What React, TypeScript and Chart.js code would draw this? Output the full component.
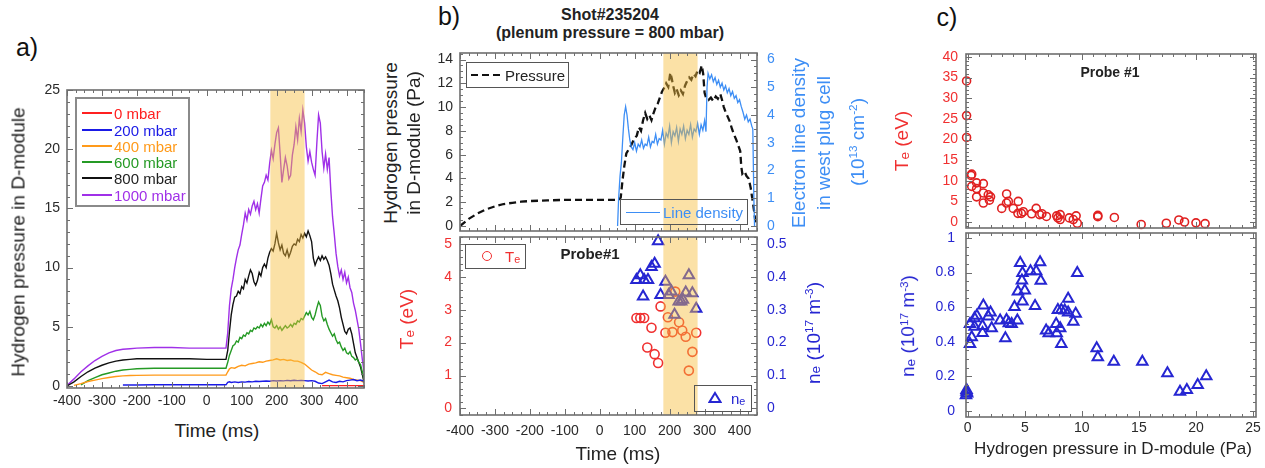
import React, { useEffect, useRef } from "react";
import { Chart, registerables } from "chart.js";
Chart.register(...registerables);

const FONT = "'Liberation Sans', Arial, Helvetica, sans-serif";

// ---------------- Panel a data ----------------
const timeCoarse = [
  -400, -380, -360, -340, -320, -300, -280, -260, -240, -220, -200, -150, -100, -50, 0, 50, 55, 60, 65, 70,
  80, 90, 100, 110, 120, 130, 140, 150, 160, 170,
  180, 190, 200, 210, 220, 230, 240, 250, 260, 270,
  280, 290, 300, 310, 320, 330, 340, 350, 360, 370,
  380, 390, 400, 410, 420, 430, 440, 450,
];
const p0mbar = [
  null, null, null, null, null, null, null, null, null, null, null, null, null, null, null, null, null, null, null, null,
  null, null, null, null, null, null, null, null, null, null,
  null, null, null, null, null, null, null, null, null, null,
  null, null, null, null, null, 0.03, 0.03, 0.03, 0.03, 0.03,
  0.03, 0.03, 0.03, 0.03, 0.03, 0.03, 0.03, 0.03,
];
const p200mbar = [
  null, null, null, null, null, null, null, null, 0.08, 0.08, 0.08, 0.1, 0.1, 0.1, 0.1, 0.1, 0.1, 0.3, 0.35, 0.3,
  0.35, 0.3, 0.35, 0.33, 0.38, 0.35, 0.4, 0.38, 0.4, 0.42,
  0.4, 0.45, 0.42, 0.45, 0.43, 0.47, 0.44, 0.48, 0.45, 0.47,
  0.45, 0.42, 0.45, 0.4, 0.25, 0.2, 0.35, 0.5, 0.35, 0.3,
  0.4, 0.35, 0.45, 0.5, 0.55, 0.45, 0.5, 0.4,
];
const p400mbar = [
  null, 0.05, 0.2, 0.38, 0.5, 0.62, 0.72, 0.8, 0.85, 0.88, 0.9, 0.92, 0.92, 0.92, 0.92, 0.92, 0.92, 1.2, 1.45, 1.55,
  1.5, 1.65, 1.75, 1.7, 1.85, 1.9, 1.95, 2.05, 2.0, 2.1,
  2.15, 2.2, 2.3, 2.2, 2.25, 2.15, 2.2, 2.1, 2.1, 2.0,
  1.85, 1.6, 1.35, 1.2, 1.0, 0.95, 1.15, 1.05, 0.95, 0.9,
  0.85, 0.75, 0.7, 0.65, 0.55, 0.5, 0.45, 0.3,
];
const timeFine = [
  -400, -380, -360, -340, -320, -300, -280, -260, -240, -220, -200, -150, -100, -50, 0, 50, 55,
  60, 65, 70, 75, 80, 85, 90, 95, 100, 105,
  110, 115, 120, 125, 130, 135, 140, 145, 150, 155,
  160, 165, 170, 175, 180, 185, 190, 195, 200, 205,
  210, 215, 220, 225, 230, 235, 240, 245, 250, 255,
  260, 265, 270, 275, 280, 285, 290, 295, 300, 305,
  310, 315, 320, 325, 330, 335, 340, 345, 350, 355,
  360, 365, 370, 375, 380, 385, 390, 395, 400, 405,
  410, 415, 420, 425, 430, 435, 440, 445, 450,
];
const p600mbar = [
  null, null, 0.1, 0.45, 0.7, 0.95, 1.1, 1.25, 1.35, 1.4, 1.45, 1.5, 1.5, 1.5, 1.5, 1.5, 1.5,
  2.0, 2.6, 3.0, 3.4, 3.5, 3.8, 3.7, 4.1, 4.0, 4.3,
  4.2, 4.5, 4.4, 4.7, 4.6, 4.9, 4.8, 5.0, 4.9, 5.2,
  5.0, 5.3, 5.1, 5.4, 5.2, 5.6, 5.0, 4.9, 5.1, 4.8,
  5.0, 4.7, 4.9, 5.1, 4.9, 5.0, 5.2, 5.0, 5.3, 5.2,
  5.5, 5.4, 5.7, 5.6, 5.9, 6.2, 6.0, 6.3, 5.8, 5.6,
  6.0, 6.6, 7.1, 6.8, 5.9, 5.5, 5.7, 5.2, 4.8, 4.5,
  4.2, 4.4, 3.9, 3.6, 3.7, 3.3, 3.0, 3.2, 2.8, 2.7,
  2.9, 2.5, 2.4, 2.2, 2.3, 2.0, 1.8, 1.2, 0.6,
];
const p800mbar = [
  0, 0.35, 0.8, 1.2, 1.5, 1.75, 1.95, 2.1, 2.2, 2.25, 2.3, 2.3, 2.3, 2.3, 2.25, 2.25, 2.25,
  3.0, 4.6, 6.0, 6.9, 7.5, 7.6, 8.0, 7.8, 8.4, 8.2,
  9.0, 8.7, 9.3, 9.8, 9.5, 8.8, 8.5, 8.9, 9.6, 9.3,
  10.0, 10.3, 10.0, 10.8, 11.3, 11.6, 11.4, 12.0, 12.9, 12.1,
  11.5, 11.9, 11.2, 11.0, 11.5, 10.9, 11.3, 11.8, 12.0, 11.9,
  12.4, 12.2, 12.8, 12.5, 12.9, 12.6, 13.1, 12.7, 12.2, 10.8,
  10.2, 10.6, 10.9, 10.6, 11.0, 10.7, 10.9, 10.6, 10.2, 9.5,
  8.6, 8.1, 7.6, 7.2, 6.6, 5.8, 5.2, 4.6, 4.4, 4.8,
  4.9, 4.4, 3.6, 2.8, 2.4, 2.0, 1.6, 1.0, 0.3,
];
const p1000mbar = [
  0.05, 0.6, 1.2, 1.7, 2.15, 2.5, 2.8, 3.0, 3.1, 3.15, 3.2, 3.25, 3.25, 3.2, 3.2, 3.2, 3.2,
  4.5, 6.8, 8.2, 9.0, 10.0, 10.8, 11.5, 11.9, 12.8, 13.6,
  14.6, 14.0, 14.9, 14.5, 15.2, 15.6, 14.9, 15.4, 14.6, 15.8,
  16.9, 17.2, 17.8, 17.4, 18.8, 19.9, 19.2, 20.4, 21.4, 21.8,
  19.6, 17.2, 18.3, 19.3, 18.6, 17.5, 17.8, 19.5, 20.4, 21.9,
  20.8, 22.6, 21.5, 23.3, 22.2, 20.2, 19.0, 19.8, 18.9, 18.3,
  17.8, 20.5, 22.9, 22.2, 19.8, 18.4, 19.6, 18.3, 19.3, 16.5,
  14.3, 12.8, 11.2, 10.1, 9.3, 9.8, 9.0, 9.6, 8.7, 9.2,
  8.3, 7.9, 7.0, 6.4, 5.6, 4.8, 3.6, 2.3, 1.2,
];
const seriesLabelsA = ["0 mbar", "200 mbar", "400 mbar", "600 mbar", "800 mbar", "1000 mbar"];

// ---------------- Panel b data ----------------
const pressureTime = [
  -400, -375, -350, -325, -300, -275, -250, -225, -200, -150, -100, -50, 0, 55,
  60, 65, 70, 76, 82, 90, 100, 106, 112, 118, 124, 130, 136, 142, 148, 154,
  160, 166, 172, 178, 184, 190, 196, 202, 206, 210, 215, 220, 226, 232, 238, 244, 250, 256, 262, 268,
  274, 280, 286, 292, 296, 300, 305, 311, 318, 325, 332, 338, 345, 350, 355, 360, 366, 372, 378, 384,
  390, 396, 402, 405, 408, 414, 420, 426, 432, 438, 442, 446,
];
const pressureValue = [
  0, 0.6, 1.05, 1.4, 1.65, 1.85, 1.95, 2.05, 2.1, 2.15, 2.2, 2.2, 2.2, 2.2,
  2.4, 3.8, 5.0, 6.1, 6.4, 6.8, 7.4, 7.6, 8.3, 8.0, 8.9, 9.5, 9.0, 9.3, 8.9, 9.5,
  10.0, 10.3, 10.8, 11.3, 11.6, 12.0, 11.7, 12.9, 12.4, 11.8, 11.2, 11.5, 11.0, 11.4, 11.1, 11.8, 12.2, 12.5, 12.3, 12.8,
  12.6, 13.1, 12.9, 13.5, 12.8, 11.2, 10.7, 10.6, 10.8, 10.5, 10.9, 10.7, 11.1, 10.6, 10.0, 9.6, 9.2, 8.8, 8.2, 7.7,
  7.3, 6.8, 6.3, 5.0, 4.4, 4.6, 4.2, 4.0, 3.2, 2.0, 1.2, 0.2,
];
const densityTime = [
  51, 54, 58, 62, 66, 70, 74, 78, 82, 86,
  90, 95, 100, 105, 110, 115, 120, 125, 130, 135,
  140, 145, 150, 155, 160, 165, 170, 175, 180, 185,
  190, 195, 200, 205, 210, 215, 220, 225, 230, 235,
  240, 245, 250, 255, 260, 265, 270, 275, 280, 285,
  290, 295, 300, 304, 307, 310, 315, 320, 325, 330,
  335, 340, 345, 350, 355, 360, 365, 370, 375, 380,
  385, 390, 395, 400, 405, 410, 415, 420, 425, 430,
  435, 438, 441, 443,
];
const densityValue = [
  0, 1.0, 1.8, 2.3, 3.2, 4.0, 4.3, 4.0, 3.5, 3.1,
  2.85, 2.75, 3.0, 2.7, 2.95, 2.85, 3.1, 2.8, 2.95, 2.9,
  3.2, 2.85, 3.05, 3.0, 3.3, 2.95, 3.15, 3.1, 3.45, 2.95,
  3.35, 3.2, 3.6, 3.0, 3.4, 3.25, 3.55, 3.05, 3.5, 3.3,
  3.6, 3.15, 3.45, 3.3, 3.65, 3.2, 3.5, 3.4, 3.7, 3.3,
  3.65, 3.45, 3.8, 3.4, 5.0, 5.5, 5.3, 5.45, 5.2, 5.35,
  5.1, 5.25, 5.0, 5.15, 4.9, 5.05, 4.8, 4.95, 4.7, 4.85,
  4.6, 4.7, 4.45, 4.55, 4.3, 4.1, 3.85, 4.0, 3.75, 3.85,
  3.6, 3.5, 1.0, 0,
];
const teTimeB = [105, 116, 127, 148, 136, 157, 167, 174, 188, 195, 208, 216, 227, 236, 246, 265, 255, 276];
const teValueB = [2.75, 2.75, 2.75, 2.45, 1.85, 1.65, 1.38, 3.1, 2.3, 2.77, 2.32, 3.55, 2.62, 2.37, 2.18, 1.72, 1.15, 2.3];
const neTimeB = [167, 148, 157, 105, 116, 127, 138, 124, 174, 188, 197, 205, 214, 226, 233, 238, 246, 255, 265, 276];
const neValueB = [0.508, 0.43, 0.44, 0.39, 0.405, 0.39, 0.39, 0.34, 0.345, 0.385, 0.345, 0.355, 0.285, 0.325, 0.325, 0.33, 0.352, 0.405, 0.35, 0.303];
const bandRange = [182, 280];

// ---------------- Panel c data ----------------
const tePressureC = [
  -0.1, -0.1, -0.1, 0.29, 0.35, 0.35, 0.78, 0.78, 0.78, 1.37, 1.37, 1.37, 1.8, 2.0, 1.9, 2.98,
  3.41, 3.4, 3.56, 3.99, 4.43, 4.4, 4.7, 4.87, 5.6, 6.0, 6.3, 6.5, 6.9, 7.8, 7.9, 8.1, 8.1,
  8.9, 9.25, 9.5, 9.6, 11.4, 11.4, 12.85, 15.2, 17.4, 18.5, 19.0, 20.0, 20.8,
];
const teValueC = [
  34.2, 25.8, 20.5, 11.3, 11.6, 8.65, 9.5, 8.1, 6.1, 9.3, 7.05, 4.6, 6.6, 6.1, 5.3, 3.3,
  6.8, 4.6, 5.0, 3.3, 5.0, 2.1, 2.1, 2.5, 2.0, 3.3, 1.8, 2.0, 1.35, 1.5, 1.0, 1.8, 0.6,
  1.0, 0.6, 1.5, -0.3, 1.3, 1.6, 1.1, -0.6, -0.3, 0.5, 0.0, -0.2, -0.4,
];
const nePressureC = [
  -0.15, -0.1, -0.05, -0.1, 0.2, 0.35, 0.2, 0.6, 0.8, 0.6, 1.37, 1.3, 1.3, 1.8, 2.0, 2.1,
  2.84, 3.3, 3.4, 3.6, 3.85, 4.35, 4.1, 4.4, 4.6, 4.8, 4.75, 4.8, 5.0, 5.5, 6.0, 5.9,
  6.34, 6.4, 6.87, 7.1, 7.75, 7.8, 7.9, 8.2, 8.1, 8.2, 8.5, 8.8, 8.8, 9.25, 9.46, 9.6,
  11.3, 11.4, 12.8, 15.3, 17.5, 18.6, 19.2, 20.15, 20.9,
];
const neValueC = [
  0.09, 0.11, 0.1, 0.12, 0.387, 0.425, 0.503, 0.536, 0.55, 0.487, 0.61, 0.49, 0.45, 0.545, 0.569, 0.478,
  0.522, 0.42, 0.526, 0.507, 0.503, 0.522, 0.6, 0.69, 0.855, 0.797, 0.754, 0.632, 0.696, 0.807, 0.807, 0.607,
  0.86, 0.752, 0.464, 0.449, 0.503, 0.449, 0.584, 0.584, 0.478, 0.387, 0.58, 0.569, 0.648, 0.516, 0.561, 0.797,
  0.362, 0.31, 0.284, 0.284, 0.217, 0.11, 0.12, 0.149, 0.2,
];

// ---------------- Tick labels ----------------
const timeTicks = [-400, -300, -200, -100, 0, 100, 200, 300, 400];
const pressureTicksA = [0, 5, 10, 15, 20, 25];
const pressureTicksB = [0, 2, 4, 6, 8, 10, 12, 14];
const densityTicks = [0, 1, 2, 3, 4, 5, 6];
const teTicksB = [0, 1, 2, 3, 4, 5];
const neTicksB = [0, 0.1, 0.2, 0.3, 0.4, 0.5];
const pressureTicksC = [0, 5, 10, 15, 20, 25];
const teTicksC = [0, 5, 10, 15, 20, 25, 30, 35, 40];
const neTicksC = [0, 0.2, 0.4, 0.6, 0.8, 1];

// ---------------- colours ----------------
const C_RED = "#f03030";
const C_BLUE = "#2626d2";
const C_LIGHT = "#3d8ef5";
const C_TXT = "#2a2a2a";
const BAND = "rgba(246,188,58,0.45)";
const colorsA = ["#ff2020", "#1a1ae6", "#ff9a1a", "#259a25", "#111111", "#a030e8"];

// ---------------- plugins ----------------
const bandPlugin = {
  id: "band",
  afterDatasetsDraw(chart: any, _a: any, opts: any) {
    if (!opts || !opts.range) return;
    const xs = chart.scales.x;
    const ca = chart.chartArea;
    const x0 = xs.getPixelForValue(opts.range[0]);
    const x1 = xs.getPixelForValue(opts.range[1]);
    const ctx = chart.ctx;
    ctx.save();
    ctx.fillStyle = opts.color;
    ctx.fillRect(x0, ca.top, x1 - x0, ca.bottom - ca.top);
    ctx.restore();
  },
};

const framePlugin = {
  id: "frame",
  afterDraw(chart: any, _a: any, opts: any) {
    const ctx = chart.ctx;
    const ca = chart.chartArea;
    ctx.save();
    ctx.strokeStyle = "#6e6e6e";
    ctx.lineWidth = 1;
    for (const ax of opts.axes || []) {
      const s = chart.scales[ax.id];
      const i0 = Math.ceil((s.min - 1e-9) / ax.minor);
      const i1 = Math.floor((s.max + 1e-9) / ax.minor);
      for (let i = i0; i <= i1; i++) {
        const v = i * ax.minor;
        const r = v / ax.major;
        const major = Math.abs(r - Math.round(r)) < 1e-6;
        const len = major ? 6 : 3;
        const p = Math.round(s.getPixelForValue(v)) + 0.5;
        for (const side of ax.sides) {
          ctx.beginPath();
          if (side === "bottom") { ctx.moveTo(p, ca.bottom); ctx.lineTo(p, ca.bottom - len); }
          if (side === "top") { ctx.moveTo(p, ca.top); ctx.lineTo(p, ca.top + len); }
          if (side === "left") { ctx.moveTo(ca.left, p); ctx.lineTo(ca.left + len, p); }
          if (side === "right") { ctx.moveTo(ca.right, p); ctx.lineTo(ca.right - len, p); }
          ctx.stroke();
        }
      }
    }
    ctx.lineWidth = 1.6;
    ctx.strokeRect(ca.left, ca.top, ca.right - ca.left, ca.bottom - ca.top);
    ctx.restore();
  },
};

// ---------------- helpers ----------------
const axis = (o: any) => ({
  type: "linear",
  position: o.position,
  min: o.min,
  max: o.max,
  grid: { display: false, drawTicks: false },
  border: { display: false },
  afterBuildTicks: (s: any) => {
    s.ticks = o.ticks.map((v: number) => ({ value: v }));
  },
  afterFit: (s: any) => {
    if (o.position === "bottom" || o.position === "top") s.height = o.size;
    else s.width = o.size;
    s.paddingTop = 0;
    s.paddingBottom = 0;
    s.paddingLeft = 0;
    s.paddingRight = 0;
  },
  ticks: {
    display: o.labels !== false,
    autoSkip: false,
    maxRotation: 0,
    minRotation: 0,
    padding: o.pad ?? 6,
    color: o.color ?? C_TXT,
    font: { family: FONT, size: 14 },
    callback: (v: any) => String(v),
  },
});

const xy = (xs: number[], ys: (number | null)[]) => xs.map((x, i) => ({ x, y: ys[i] }));

const baseOptions = (padding: any, scales: any, plugins: any) => ({
  responsive: false,
  animation: false,
  layout: { padding, autoPadding: false },
  scales,
  plugins: { legend: { display: false }, tooltip: { enabled: false }, ...plugins },
});

// ---------------- chart configs ----------------
const configA = () => {
  const series = [p0mbar, p200mbar, p400mbar, p600mbar, p800mbar, p1000mbar];
  const times = [timeCoarse, timeCoarse, timeCoarse, timeFine, timeFine, timeFine];
  return {
    type: "line",
    data: {
      datasets: series.map((s, i) => ({
        label: seriesLabelsA[i],
        data: xy(times[i], s),
        borderColor: colorsA[i],
        borderWidth: 1.4,
        pointRadius: 0,
        fill: false,
        tension: 0,
        spanGaps: false,
      })),
    },
    options: baseOptions(
      { left: 0, right: 10, top: 10, bottom: 0 },
      {
        x: axis({ position: "bottom", min: -400, max: 450, ticks: timeTicks, size: 26, pad: 5 }),
        y: axis({ position: "left", min: -0.17, max: 25, ticks: pressureTicksA, size: 50, pad: 7 }),
      },
      {
        band: { range: bandRange, color: BAND },
        frame: {
          axes: [
            { id: "x", sides: ["bottom", "top"], major: 100, minor: 25 },
            { id: "y", sides: ["left", "right"], major: 5, minor: 1 },
          ],
        },
      }
    ),
    plugins: [bandPlugin, framePlugin],
  };
};

const configBTop = () => ({
  type: "line",
  data: {
    datasets: [
      {
        label: "Line density",
        data: xy(densityTime, densityValue),
        yAxisID: "y2",
        borderColor: C_LIGHT,
        borderWidth: 1.3,
        pointRadius: 0,
        tension: 0,
      },
      {
        label: "Pressure",
        data: xy(pressureTime, pressureValue),
        yAxisID: "y",
        borderColor: "#111111",
        borderWidth: 2.3,
        borderDash: [7, 4],
        pointRadius: 0,
        tension: 0,
      },
    ],
  },
  options: baseOptions(
    { left: 0, right: 0, top: 10, bottom: 10 },
    {
      x: axis({ position: "bottom", min: -400, max: 450, ticks: timeTicks, size: 0, labels: false }),
      y: axis({ position: "left", min: -0.42, max: 14.55, ticks: pressureTicksB, size: 45, pad: 7 }),
      y2: axis({ position: "right", min: -0.18, max: 6.235, ticks: densityTicks, size: 45, pad: 10, color: C_LIGHT }),
    },
    {
      band: { range: bandRange, color: BAND },
      frame: {
        axes: [
          { id: "x", sides: ["bottom", "top"], major: 100, minor: 25 },
          { id: "y", sides: ["left"], major: 2, minor: 0.5 },
          { id: "y2", sides: ["right"], major: 1, minor: 0.25 },
        ],
      },
    }
  ),
  plugins: [bandPlugin, framePlugin],
});

const configBBottom = () => ({
  type: "scatter",
  data: {
    datasets: [
      {
        label: "ne",
        data: xy(neTimeB, neValueB),
        yAxisID: "y2",
        pointStyle: "triangle",
        pointRadius: 6,
        borderWidth: 2,
        borderColor: C_BLUE,
        backgroundColor: "rgba(0,0,0,0)",
        clip: false,
      },
      {
        label: "Te",
        data: xy(teTimeB, teValueB),
        yAxisID: "y",
        pointStyle: "circle",
        pointRadius: 4.5,
        borderWidth: 1.6,
        borderColor: C_RED,
        backgroundColor: "rgba(0,0,0,0)",
        clip: false,
      },
    ],
  },
  options: baseOptions(
    { left: 0, right: 0, top: 10, bottom: 0 },
    {
      x: axis({ position: "bottom", min: -400, max: 450, ticks: timeTicks, size: 30, pad: 8 }),
      y: axis({ position: "left", min: -0.2, max: 5.21, ticks: teTicksB, size: 45, pad: 8, color: C_RED }),
      y2: axis({ position: "right", min: -0.02, max: 0.521, ticks: neTicksB, size: 45, pad: 10, color: C_BLUE }),
    },
    {
      band: { range: bandRange, color: BAND },
      frame: {
        axes: [
          { id: "x", sides: ["bottom", "top"], major: 100, minor: 25 },
          { id: "y", sides: ["left"], major: 1, minor: 0.2 },
          { id: "y2", sides: ["right"], major: 0.1, minor: 0.02 },
        ],
      },
    }
  ),
  plugins: [bandPlugin, framePlugin],
});

const configCTop = () => ({
  type: "scatter",
  data: {
    datasets: [
      {
        label: "Te",
        data: xy(tePressureC, teValueC),
        pointStyle: "circle",
        pointRadius: 4,
        borderWidth: 1.6,
        borderColor: "#e02020",
        backgroundColor: "rgba(0,0,0,0)",
        clip: false,
      },
    ],
  },
  options: baseOptions(
    { left: 0, right: 9, top: 10, bottom: 10 },
    {
      x: axis({ position: "bottom", min: -0.15, max: 25.26, ticks: pressureTicksC, size: 0, labels: false }),
      y: axis({ position: "left", min: -1.45, max: 40.73, ticks: teTicksC, size: 50, pad: 8, color: C_RED }),
    },
    {
      frame: {
        axes: [
          { id: "x", sides: ["bottom", "top"], major: 5, minor: 1 },
          { id: "y", sides: ["left", "right"], major: 5, minor: 1 },
        ],
      },
    }
  ),
  plugins: [framePlugin],
});

const configCBottom = () => ({
  type: "scatter",
  data: {
    datasets: [
      {
        label: "ne",
        data: xy(nePressureC, neValueC),
        pointStyle: "triangle",
        pointRadius: 6,
        borderWidth: 2,
        borderColor: C_BLUE,
        backgroundColor: "rgba(0,0,0,0)",
        clip: false,
      },
    ],
  },
  options: baseOptions(
    { left: 0, right: 9, top: 10, bottom: 0 },
    {
      x: axis({ position: "bottom", min: -0.15, max: 25.26, ticks: pressureTicksC, size: 26, pad: 3 }),
      y: axis({ position: "left", min: -0.036, max: 1.029, ticks: neTicksC, size: 50, pad: 11, color: C_BLUE }),
    },
    {
      frame: {
        axes: [
          { id: "x", sides: ["bottom", "top"], major: 5, minor: 1 },
          { id: "y", sides: ["left", "right"], major: 0.2, minor: 0.05 },
        ],
      },
    }
  ),
  plugins: [framePlugin],
});

// ---------------- components ----------------
function ChartCanvas({ l, t, w, h, make }: any) {
  const ref = useRef<HTMLCanvasElement>(null);
  useEffect(() => {
    const chart = new Chart(ref.current as HTMLCanvasElement, make() as any);
    return () => chart.destroy();
  }, []);
  return (
    <canvas
      ref={ref}
      width={w}
      height={h}
      style={{ position: "absolute", left: l, top: t, width: w, height: h }}
    />
  );
}

function Txt({ x, y, rot, size = 19, color = "#222", bold, children }: any) {
  return (
    <div
      style={{
        position: "absolute",
        left: x,
        top: y,
        transform: `translate(-50%,-50%)${rot ? " rotate(-90deg)" : ""}`,
        fontFamily: FONT,
        fontSize: size,
        color,
        fontWeight: bold ? 700 : 400,
        whiteSpace: "nowrap",
        lineHeight: 1,
      }}
    >
      {children}
    </div>
  );
}

const Sup = ({ children }: any) => (
  <span style={{ fontSize: "0.62em", verticalAlign: "0.55em" }}>{children}</span>
);
const Sub = ({ children }: any) => (
  <span style={{ fontSize: "0.72em", verticalAlign: "-0.05em" }}>{children}</span>
);

function Box({ l, t, w, h, color = "#666", bw = 1.6 }: any) {
  return (
    <div
      style={{
        position: "absolute",
        left: l,
        top: t,
        width: w,
        height: h,
        border: `${bw}px solid ${color}`,
        boxSizing: "border-box",
      }}
    />
  );
}

function HLine({ x, y, w, color, width = 2, dash }: any) {
  return (
    <div
      style={{
        position: "absolute",
        left: x,
        top: Math.round(y - width / 2),
        width: w,
        height: width,
        background: dash
          ? `repeating-linear-gradient(90deg, ${color} 0 7px, transparent 7px 11px)`
          : color,
      }}
    />
  );
}

function LegText({ x, y, color, size = 15, children }: any) {
  return (
    <div
      style={{
        position: "absolute",
        left: x,
        top: y,
        transform: "translateY(-50%)",
        fontFamily: FONT,
        fontSize: size,
        color,
        whiteSpace: "nowrap",
        lineHeight: 1,
      }}
    >
      {children}
    </div>
  );
}

export default function App() {
  const legendRowsA = [113, 130, 146, 162, 178, 195];
  return (
    <div
      style={{
        position: "absolute",
        left: 0,
        top: 0,
        width: 1265,
        height: 468,
        overflow: "hidden",
        background: "#ffffff",
      }}
    >
      {/* Panel a */}
      <ChartCanvas l={17} t={80} w={357} h={334} make={configA} />
      <Txt x={27} y={47} size={25} color="#111">a)</Txt>
      <Txt x={18} y={242} rot>Hydrogen pressure in D-module</Txt>
      <Txt x={217} y={430}>Time (ms)</Txt>
      <Box l={75} t={97} w={115} h={110} color="#8a8a8a" bw={2} />
      {seriesLabelsA.map((lab, i) => (
        <React.Fragment key={lab}>
          <HLine x={82} y={legendRowsA[i]} w={30} color={colorsA[i]} width={2} />
          <LegText x={114} y={legendRowsA[i]} color={colorsA[i] === "#111111" ? "#222" : colorsA[i]}>
            {lab}
          </LegText>
        </React.Fragment>
      ))}

      {/* Panel b */}
      <ChartCanvas l={415} t={43} w={387} h={198} make={configBTop} />
      <ChartCanvas l={415} t={227} w={387} h={218} make={configBBottom} />
      <Txt x={449} y={16} size={25} color="#111">b)</Txt>
      <Txt x={610} y={15} size={16} bold>Shot#235204</Txt>
      <Txt x={610} y={33} size={16} bold>(plenum pressure = 800 mbar)</Txt>
      <Txt x={390} y={143} rot>Hydrogen pressure</Txt>
      <Txt x={413} y={143} rot>in D-module (Pa)</Txt>
      <Txt x={407} y={319} rot color={C_RED}>
        T<Sub>e</Sub> (eV)
      </Txt>
      <Txt x={798} y={143} rot color={C_LIGHT}>Electron line density</Txt>
      <Txt x={823} y={143} rot color={C_LIGHT}>in west plug cell</Txt>
      <Txt x={857} y={142} rot color={C_LIGHT}>
        (10<Sup>13</Sup> cm<Sup>-2</Sup>)
      </Txt>
      <Txt x={813} y={333} rot color={C_BLUE}>
        n<Sub>e</Sub> (10<Sup>17</Sup> m<Sup>-3</Sup>)
      </Txt>
      <Txt x={618} y={453}>Time (ms)</Txt>
      <Txt x={590} y={253} size={15} bold>Probe#1</Txt>
      {/* b legends */}
      <Box l={466} t={62} w={103} h={26} color="#555" />
      <HLine x={471} y={75} w={29} color="#111" width={2} dash />
      <LegText x={505} y={75} color="#222">Pressure</LegText>
      <Box l={620} t={199} w={128} h={26} color="#555" />
      <HLine x={626} y={212} w={34} color={C_LIGHT} width={1} />
      <LegText x={663} y={212} color={C_LIGHT}>Line density</LegText>
      <Box l={465} t={244} w={61} h={25} color="#555" />
      <div
        style={{
          position: "absolute",
          left: 482,
          top: 251,
          width: 10,
          height: 10,
          borderRadius: "50%",
          border: `1.6px solid ${C_RED}`,
          boxSizing: "border-box",
        }}
      />
      <LegText x={505} y={257} color={C_RED}>
        T<Sub>e</Sub>
      </LegText>
      <Box l={694} t={385} w={58} h={27} color="#555" />
      <svg style={{ position: "absolute", left: 708, top: 391 }} width={14} height={13}>
        <polygon points="7,2 12.5,11 1.5,11" fill="none" stroke={C_BLUE} strokeWidth={2} />
      </svg>
      <LegText x={731} y={399} color={C_BLUE}>
        n<Sub>e</Sub>
      </LegText>

      {/* Panel c */}
      <ChartCanvas l={916} t={44} w={349} h={194} make={configCTop} />
      <ChartCanvas l={916} t={223} w={349} h={220} make={configCBottom} />
      <Txt x={947} y={17} size={25} color="#111">c)</Txt>
      <Txt x={902} y={141} rot color={C_RED}>
        T<Sub>e</Sub> (eV)
      </Txt>
      <Txt x={1110} y={72} size={14} bold>Probe #1</Txt>
      <Txt x={908} y={326} rot color={C_BLUE}>
        n<Sub>e</Sub> (10<Sup>17</Sup> m<Sup>-3</Sup>)
      </Txt>
      <Txt x={1113} y={448} size={17}>Hydrogen pressure in D-module (Pa)</Txt>
    </div>
  );
}
